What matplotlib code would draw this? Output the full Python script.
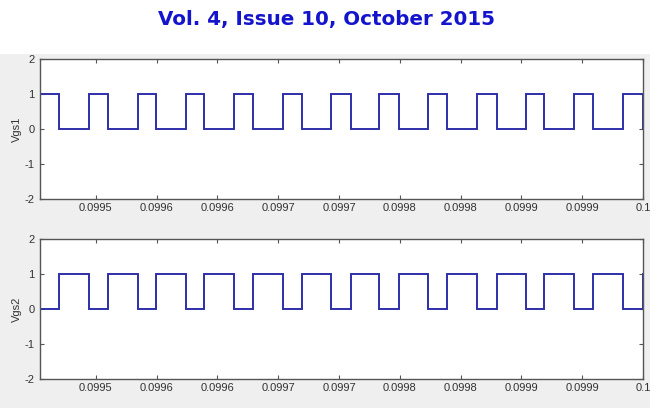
import matplotlib
matplotlib.use("Agg")
import matplotlib.pyplot as plt
from matplotlib.patches import Rectangle

# switching instants (s), left edge to right edge
switch_t = [
    0.0995040, 0.0995199, 0.0995445, 0.0995597, 0.0995846, 0.0995994,
    0.0996238, 0.0996391, 0.0996638, 0.0996789, 0.0997036, 0.0997195,
    0.0997434, 0.0997598, 0.0997831, 0.0997995, 0.0998234, 0.0998390,
    0.0998635, 0.0998797, 0.0999035, 0.0999188, 0.0999435, 0.0999591,
    0.0999833, 0.1000000,
]
t_start = 0.0995030
t_end = 0.1000010

# level held before the first switch, then after each switch
vgs1_levels = [0, 1, 0, 1, 0, 1, 0, 1, 0, 1, 0, 1, 0,
               1, 0, 1, 0, 1, 0, 1, 0, 1, 0, 1, 0, 1, 0]
vgs2_levels = [1, 0, 1, 0, 1, 0, 1, 0, 1, 0, 1, 0, 1,
               0, 1, 0, 1, 0, 1, 0, 1, 0, 1, 0, 1, 0, 1]

x_ticks = [0.09955, 0.09960, 0.09965, 0.09970, 0.09975,
           0.09980, 0.09985, 0.09990, 0.09995, 0.10000]
x_labels = ["0.0995", "0.0996", "0.0996", "0.0997", "0.0997",
            "0.0998", "0.0998", "0.0999", "0.0999", "0.1"]
y_ticks = [-2, -1, 0, 1, 2]
x_lim = (0.0995040, 0.1)

W, H = 659, 408
fig = plt.figure(figsize=(W / 100, H / 100), dpi=100)
fig.patch.set_facecolor("white")

# grey MATLAB figure window behind the axes
fig.patches.append(Rectangle((0, 0), 650 / W, 1 - 54 / H, transform=fig.transFigure,
                             facecolor="#efefef", edgecolor="none", zorder=-10))

fig.text(327 / W, 1 - 19 / H, "Vol. 4, Issue 10, October 2015",
         ha="center", va="center", fontsize=14.3, fontweight="bold",
         color="#1414cc", family="DejaVu Sans")

tick_font = {"family": ["Liberation Sans Narrow", "Liberation Sans"], "size": 8}

panels = [
    (vgs1_levels, "Vgs1", 59),
    (vgs2_levels, "Vgs2", 239),
]

for levels, name, top_px in panels:
    ax = fig.add_axes([40 / W, 1 - (top_px + 140) / H, 603 / W, 140 / H])
    ax.set_facecolor("white")
    t = [t_start] + switch_t + [t_end]
    y = levels + [levels[-1]]
    ax.step(t, y, where="post", color="#2e2eaa", lw=1.4, solid_joinstyle="miter")
    ax.set_xlim(*x_lim)
    ax.set_ylim(-2, 2)
    ax.set_xticks(x_ticks)
    ax.set_xticklabels(x_labels, fontdict=tick_font, color="#333333")
    ax.set_yticks(y_ticks)
    ax.set_yticklabels([str(v) for v in y_ticks], fontdict=tick_font, color="#333333")
    ax.tick_params(direction="in", length=3, width=0.8, color="#555555",
                   top=True, right=True, pad=3)
    ax.tick_params(axis="y", pad=4)
    for s in ax.spines.values():
        s.set_color("#555555")
        s.set_linewidth(1.0)
    ax.set_ylabel(name, fontdict=tick_font, color="#333333", labelpad=2)

fig.savefig("out.png", dpi=100)
